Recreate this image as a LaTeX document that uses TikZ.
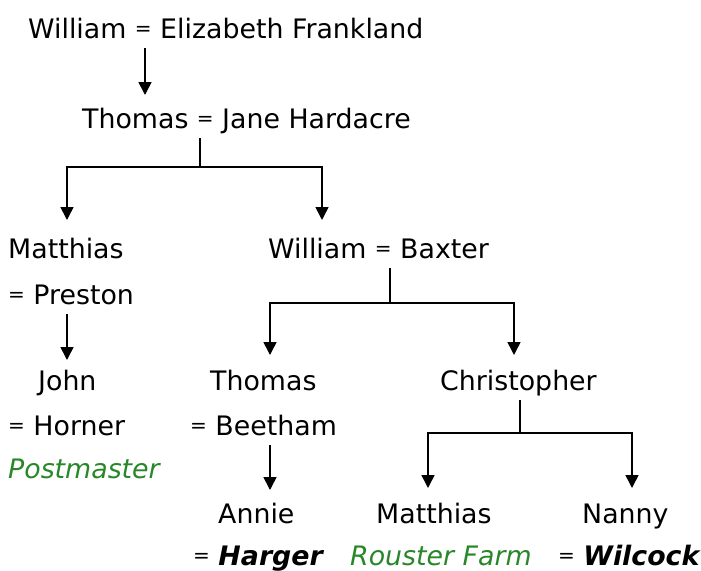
\documentclass[tikz,border=0pt]{standalone}
\usepackage{fontspec}
\setmainfont{DejaVu Sans}
\usepackage{tikz}
\usetikzlibrary{arrows.meta,positioning,calc}
\definecolor{jobgreen}{RGB}{40,135,40}
\newcommand{\job}[1]{\textcolor{jobgreen}{\itshape #1}}
\newcommand{\wed}[1]{{\bfseries\itshape #1}}
\newcommand{\eq}{\raisebox{2.2pt}{\fontsize{20}{20}\selectfont=}}
\tikzset{
  person/.style={anchor=base west,inner sep=0pt,outer ysep=4pt,
    text height=20pt,text depth=6pt,font=\fontsize{26.8}{32}\selectfont},
  desc/.style={-{Triangle[width=13pt,length=13pt]},line width=1.6pt},
  fork/.style={line width=1.6pt}
}
\begin{document}
\begin{tikzpicture}[x=1pt,y=-1pt]
  \useasboundingbox (0,0) rectangle (701,570);

  % generations
  \node[person] (wef) at (28,38) {William \eq{} Elizabeth Frankland};
  \node[person] (tjh) at (82,128) {Thomas \eq{} Jane Hardacre};
  \node[person] (mat) at (8,258) {Matthias};
  \node[person] (pre) at (8,304) {\eq{} Preston};
  \node[person] (wba) at (268,258) {William \eq{} Baxter};
  \node[person] (joh) at (38,390) {John};
  \node[person] (hor) at (8,435) {\eq{} Horner};
  \node[person] (pst) at (8,478) {\job{Postmaster}};
  \node[person] (tho) at (210,390) {Thomas};
  \node[person] (bee) at (190,435) {\eq{} Beetham};
  \node[person] (chr) at (440,390) {Christopher};
  \node[person] (ann) at (218,523) {Annie};
  \node[person] (har) at (193,565) {\eq{} \wed{Harger}};
  \node[person] (mt2) at (376,523) {Matthias};
  \node[person] (rou) at (350,565) {\job{Rouster Farm}};
  \node[person] (nan) at (582,523) {Nanny};
  \node[person] (wil) at (558,565) {\eq{} \wed{Wilcock}};

  % forks and arrow tips
  \coordinate (t1) at (145,95);
  \coordinate (f2) at (200,167);
  \coordinate (t2l) at (67,220);
  \coordinate (t2r) at (322,220);
  \coordinate (t3) at (67,360);
  \coordinate (f3) at (390,303);
  \coordinate (t3l) at (270,355);
  \coordinate (t3r) at (514,355);
  \coordinate (t4) at (270,490);
  \coordinate (f4) at (520,433);
  \coordinate (t4l) at (428,488);
  \coordinate (t4r) at (632,488);

  \draw[desc] (wef.south -| t1) -- (t1);
  \draw[fork] (tjh.south -| f2) -- (f2);
  \draw[desc] (f2) -| (t2l);
  \draw[desc] (f2) -| (t2r);
  \draw[desc] (pre.south -| t3) -- (t3);
  \draw[fork] (wba.south -| f3) -- (f3);
  \draw[desc] (f3) -| (t3l);
  \draw[desc] (f3) -| (t3r);
  \draw[desc] (bee.south -| t4) -- (t4);
  \draw[fork] (chr.south -| f4) -- (f4);
  \draw[desc] (f4) -| (t4l);
  \draw[desc] (f4) -| (t4r);
\end{tikzpicture}
\end{document}
